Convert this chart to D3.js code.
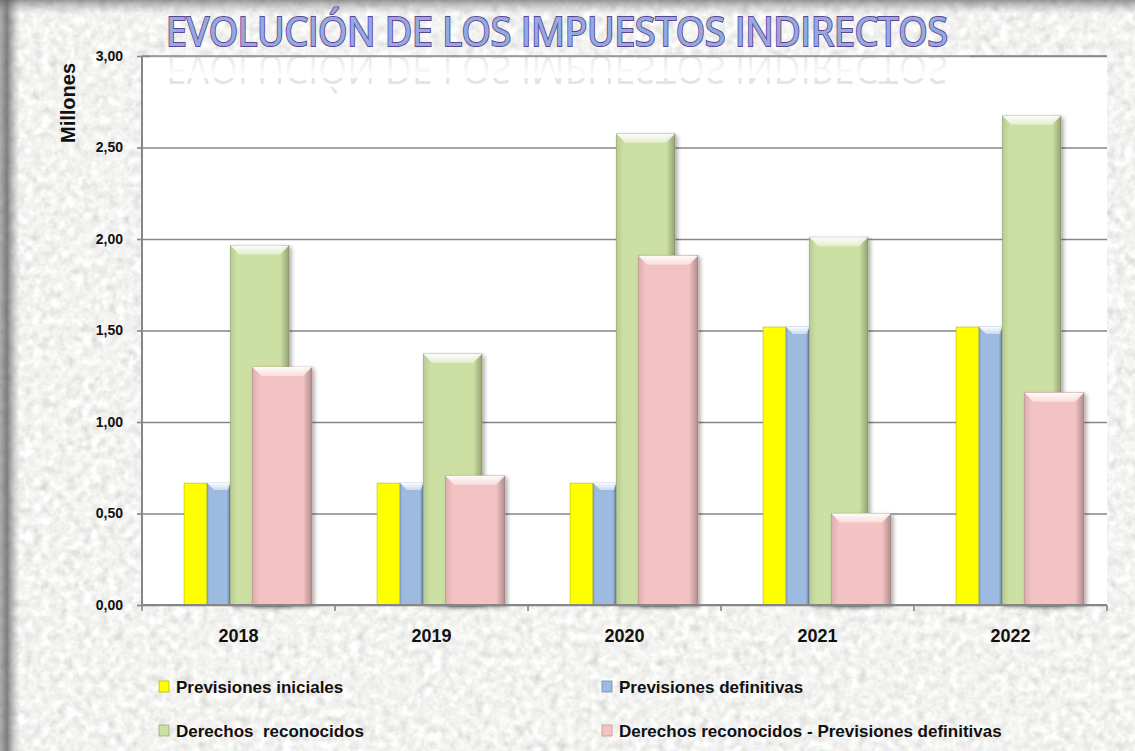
<!DOCTYPE html>
<html>
<head>
<meta charset="utf-8">
<script src="https://cdn.jsdelivr.net/npm/d3@7"></script>
<style>
  body { margin: 0; background: #dcdcda; }
  svg { display: block; }
</style>
</head>
<body>
<div id="chart"></div>
<script>
// data
var years = ["2018", "2019", "2020", "2021", "2022"];
var prevIniciales = [0.666, 0.666, 0.666, 1.519, 1.519];
var prevDefinitivas = [0.666, 0.666, 0.666, 1.519, 1.519];
var derechosRec = [1.965, 1.372, 2.575, 2.010, 2.673];
var diferencia = [1.300, 0.706, 1.909, 0.500, 1.160];
var seriesNames = ["Previsiones iniciales", "Previsiones definitivas",
    "Derechos  reconocidos", "Derechos reconocidos - Previsiones definitivas"];
var yTicks = [0, 0.5, 1, 1.5, 2, 2.5, 3];

var W = 1135, H = 751;
var margin = { top: 56, right: 28, bottom: 146, left: 142 },
    width = W - margin.left - margin.right,
    height = H - margin.top - margin.bottom;

var colors = ["#ffff00", "#9dbbe1", "#cde0a3", "#f3c2c2"];
var edges = ["#b8b800", "#6f8fb8", "#98ad70", "#c89494"];
// bar slot inside a band, as fraction of the band width
var slots = [[0.218, 0.337], [0.337, 0.456], [0.458, 0.762], [0.572, 0.881]];

var x = d3.scaleBand().domain(years).range([0, width]).padding(0);
var y = d3.scaleLinear().domain([0, 3]).range([height, 0]);

var fmt = d3.formatLocale({ decimal: ",", thousands: ".", grouping: [3], currency: ["", "€"] }).format(".2f");

var svg = d3.select("#chart").append("svg")
    .attr("width", W)
    .attr("height", H);

var defs = svg.append("defs");

// stone texture
var tex = defs.append("filter").attr("id", "stone")
    .attr("x", 0).attr("y", 0).attr("width", 1).attr("height", 1);
tex.append("feTurbulence").attr("type", "fractalNoise")
    .attr("baseFrequency", "0.12").attr("numOctaves", 4).attr("seed", 7).attr("result", "n");
tex.append("feColorMatrix").attr("in", "n").attr("type", "matrix")
    .attr("values", "0.26 0.26 0.26 0 0.50  0.26 0.26 0.26 0 0.50  0.26 0.26 0.26 0 0.49  0 0 0 0 1");

var lg = defs.append("linearGradient").attr("id", "leftShade");
lg.append("stop").attr("offset", "0").attr("stop-color", "#666").attr("stop-opacity", 0.5);
lg.append("stop").attr("offset", "0.35").attr("stop-color", "#555").attr("stop-opacity", 0.75);
lg.append("stop").attr("offset", "1").attr("stop-color", "#999").attr("stop-opacity", 0);

var tg = defs.append("linearGradient").attr("id", "topShade")
    .attr("x1", 0).attr("y1", 0).attr("x2", 0).attr("y2", 1);
tg.append("stop").attr("offset", "0").attr("stop-color", "#555").attr("stop-opacity", 0.6);
tg.append("stop").attr("offset", "1").attr("stop-color", "#999").attr("stop-opacity", 0);

// bar shading
var side = defs.append("linearGradient").attr("id", "side");
side.append("stop").attr("offset", "0").attr("stop-color", "#000").attr("stop-opacity", 0.10);
side.append("stop").attr("offset", "0.12").attr("stop-color", "#000").attr("stop-opacity", 0);
side.append("stop").attr("offset", "0.85").attr("stop-color", "#000").attr("stop-opacity", 0);
side.append("stop").attr("offset", "1").attr("stop-color", "#000").attr("stop-opacity", 0.28);

var bev = defs.append("linearGradient").attr("id", "bevel")
    .attr("x1", 0).attr("y1", 0).attr("x2", 0).attr("y2", 1);
bev.append("stop").attr("offset", "0").attr("stop-color", "#fff").attr("stop-opacity", 0.95);
bev.append("stop").attr("offset", "1").attr("stop-color", "#fff").attr("stop-opacity", 0.45);

var sh = defs.append("filter").attr("id", "shadow")
    .attr("x", "-20%").attr("y", "-5%").attr("width", "150%").attr("height", "115%");
sh.append("feDropShadow").attr("dx", 2).attr("dy", 2).attr("stdDeviation", 2)
    .attr("flood-color", "#000").attr("flood-opacity", 0.35);

// reflection fade for the title copy
var rf = defs.append("linearGradient").attr("id", "reflFade")
    .attr("x1", 0).attr("y1", 0).attr("x2", 0).attr("y2", 1);
rf.append("stop").attr("offset", "0").attr("stop-color", "#fff").attr("stop-opacity", 0);
rf.append("stop").attr("offset", "1").attr("stop-color", "#fff").attr("stop-opacity", 1);

// background
svg.append("rect").attr("width", W).attr("height", H).attr("filter", "url(#stone)");
svg.append("rect").attr("width", 20).attr("height", H).attr("fill", "url(#leftShade)");
svg.append("rect").attr("width", W).attr("height", 14).attr("fill", "url(#topShade)");

var g = svg.append("g")
    .attr("transform", "translate(" + margin.left + "," + margin.top + ")");

// plot area
g.append("rect").attr("width", width).attr("height", height).attr("fill", "#fff");

// gridlines
g.append("g")
    .attr("class", "grid")
    .call(d3.axisLeft(y).tickValues(yTicks).tickSize(-width).tickFormat(""))
    .call(function (s) {
        s.select(".domain").remove();
        s.selectAll("line").attr("stroke", "#868686").attr("stroke-width", 1.6);
    });

// bars
var seriesData = [prevIniciales, prevDefinitivas, derechosRec, diferencia];
seriesData.forEach(function (vals, si) {
    var bars = g.append("g").selectAll("g")
        .data(vals)
        .enter().append("g")
        .attr("transform", function (d, i) {
            return "translate(" + (x(years[i]) + slots[si][0] * x.bandwidth()) + "," + y(d) + ")";
        });
    var bw = (slots[si][1] - slots[si][0]) * x.bandwidth();
    bars.append("rect")
        .attr("width", bw)
        .attr("height", function (d) { return height - y(d); })
        .attr("fill", colors[si])
        .attr("stroke", edges[si]).attr("stroke-width", 0.6)
        .attr("filter", si >= 2 ? "url(#shadow)" : null);
    if (si > 0) {
        bars.append("rect")
            .attr("width", bw)
            .attr("height", function (d) { return height - y(d); })
            .attr("fill", "url(#side)");
        var b = si >= 2 ? 9 : 7;
        bars.append("path")
            .attr("d", si >= 2
                ? "M0,0H" + bw + "L" + (bw - b) + "," + b + "H" + b + "Z"
                : "M0,0H" + bw + "L" + bw + "," + 1 + "L" + (bw - 2) + "," + b + "H" + b + "Z")
            .attr("fill", "url(#bevel)");
    }
});

// y axis
g.append("g")
    .call(d3.axisLeft(y).tickValues(yTicks).tickSize(5).tickPadding(14).tickFormat(fmt))
    .call(function (s) {
        s.select(".domain").attr("stroke", "#868686").attr("stroke-width", 2)
            .attr("d", "M0," + height + "V0");
        s.selectAll(".tick line").attr("stroke", "#868686").attr("stroke-width", 1.6);
        s.selectAll("text")
            .attr("font-family", "'Liberation Sans', Arial, sans-serif")
            .attr("font-weight", "bold").attr("font-size", 14).attr("fill", "#111");
    });

// x axis
var xa = g.append("g").attr("transform", "translate(0," + height + ")");
xa.append("line").attr("x1", 0).attr("x2", width)
    .attr("stroke", "#868686").attr("stroke-width", 2);
xa.selectAll(".xt")
    .data(years.map(function (d) { return x(d); }).concat([width]))
    .enter().append("line")
    .attr("x1", function (d) { return d; }).attr("x2", function (d) { return d; })
    .attr("y1", 0).attr("y2", 6)
    .attr("stroke", "#868686").attr("stroke-width", 1.6);
xa.selectAll(".xl")
    .data(years)
    .enter().append("text")
    .attr("x", function (d) { return x(d) + x.bandwidth() / 2; })
    .attr("y", 37)
    .attr("text-anchor", "middle")
    .attr("font-family", "'Liberation Sans', Arial, sans-serif")
    .attr("font-weight", "bold").attr("font-size", 18).attr("fill", "#111")
    .text(function (d) { return d; });

// y axis title
svg.append("text")
    .attr("transform", "translate(75,103) rotate(-90)")
    .attr("text-anchor", "middle")
    .attr("font-family", "'Liberation Sans', Arial, sans-serif")
    .attr("font-weight", "bold").attr("font-size", 20).attr("fill", "#111")
    .text("Millones");

// title
defs.append("text")
    .attr("id", "titleText")
    .attr("x", 557).attr("y", 46)
    .attr("text-anchor", "middle")
    .attr("font-family", "'Open Sans', sans-serif")
    .attr("font-size", 40)
    .attr("textLength", 782).attr("lengthAdjust", "spacingAndGlyphs")
    .text("EVOLUCIÓN DE LOS IMPUESTOS INDIRECTOS");

// faint mirrored copy under the title
svg.append("use")
    .attr("href", "#titleText")
    .attr("transform", "translate(0,101) scale(1,-1)")
    .attr("fill", "#888").attr("opacity", 0.22);
svg.append("rect")
    .attr("x", 150).attr("y", 52).attr("width", 820).attr("height", 26)
    .attr("fill", "url(#reflFade)");
// redraw plot edge lines covered by fade box
g.append("line").attr("x1", 0).attr("x2", width).attr("y1", 0).attr("y2", 0)
    .attr("stroke", "#868686").attr("stroke-width", 1.6);
g.append("line").attr("x1", 0).attr("x2", 0).attr("y1", 0).attr("y2", 30)
    .attr("stroke", "#868686").attr("stroke-width", 2);

svg.append("use")
    .attr("href", "#titleText")
    .attr("fill", "#93a9e0")
    .attr("stroke", "#5e4592").attr("stroke-width", 2.2)
    .attr("paint-order", "stroke");
svg.append("text")
    .attr("x", 557).attr("y", 46)
    .attr("text-anchor", "middle")
    .attr("font-family", "'Open Sans', sans-serif")
    .attr("font-size", 40)
    .attr("textLength", 782).attr("lengthAdjust", "spacingAndGlyphs")
    .attr("fill", "#93a9e0")
    .text("EVOLUCIÓN DE LOS IMPUESTOS INDIRECTOS");

// legend
var legPos = [[158, 688], [601, 688], [158, 732], [601, 732]];
var leg = svg.append("g").selectAll("g")
    .data(seriesNames)
    .enter().append("g")
    .attr("transform", function (d, i) { return "translate(" + legPos[i][0] + "," + legPos[i][1] + ")"; });
leg.append("rect")
    .attr("x", 1).attr("y", -7).attr("width", 10).attr("height", 11)
    .attr("fill", function (d, i) { return colors[i]; })
    .attr("stroke", function (d, i) { return edges[i]; }).attr("stroke-width", 0.8);
leg.append("text")
    .attr("x", 18).attr("y", 5)
    .attr("font-family", "'Liberation Sans', Arial, sans-serif")
    .attr("font-weight", "bold").attr("font-size", 17).attr("fill", "#111")
    .style("white-space", "pre")
    .text(function (d) { return d; });
</script>
</body>
</html>
